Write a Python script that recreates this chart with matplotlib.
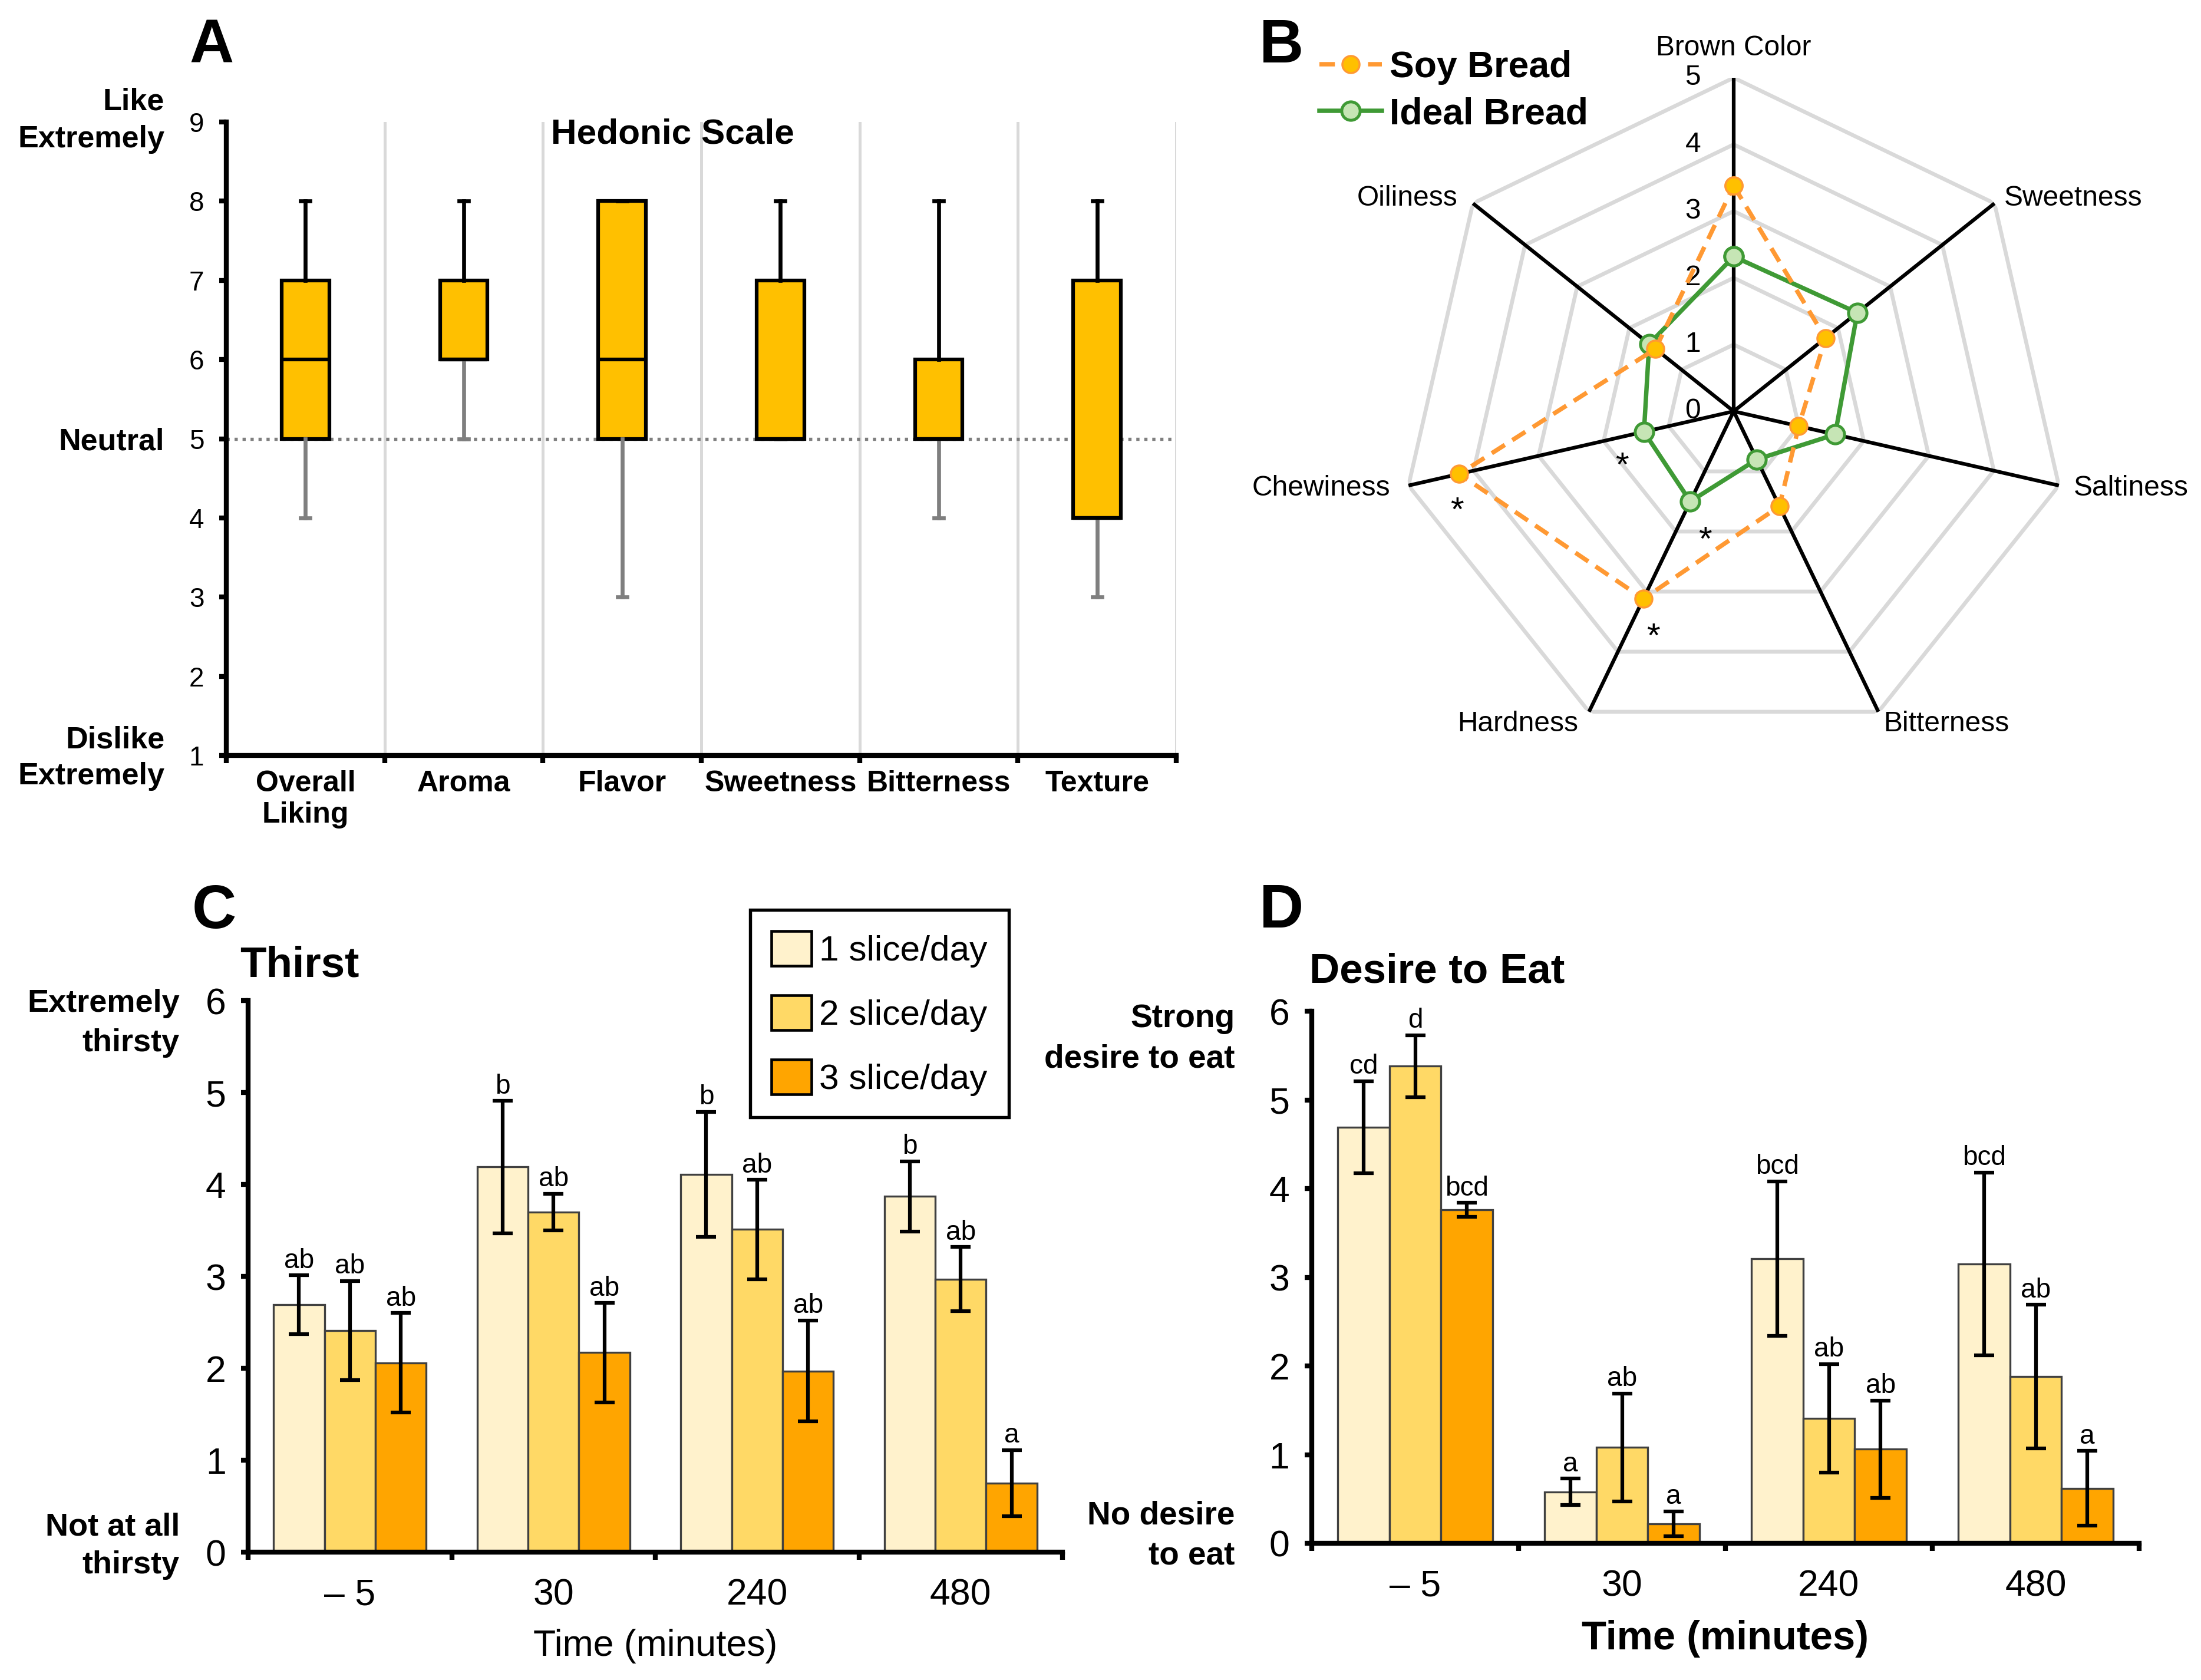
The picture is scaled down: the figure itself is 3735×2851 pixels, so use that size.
import matplotlib
matplotlib.use('Agg')
import matplotlib.pyplot as plt
import numpy as np
from matplotlib import transforms
from matplotlib.patches import Patch
from matplotlib.lines import Line2D

plt.rcParams['font.family'] = ['Liberation Sans', 'DejaVu Sans']

# ---------------- Panel A data (hedonic box plots) ----------------
hedonic_categories = ['Overall\nLiking', 'Aroma', 'Flavor', 'Sweetness', 'Bitterness', 'Texture']
hedonic_min = [4, 5, 3, 5, 4, 3]
hedonic_q1 = [5, 6, 5, 5, 5, 4]
hedonic_median = [6, 6, 6, 5, 5, 4]
hedonic_q3 = [7, 7, 8, 7, 6, 7]
hedonic_max = [8, 8, 8, 8, 8, 8]
hedonic_ticks = [1, 2, 3, 4, 5, 6, 7, 8, 9]

# ---------------- Panel B data (radar) ----------------
radar_attributes = ['Brown Color', 'Sweetness', 'Saltiness', 'Bitterness', 'Hardness', 'Chewiness', 'Oiliness']
soy_bread = [3.38, 1.76, 1.00, 1.58, 3.12, 4.22, 1.50]
ideal_bread = [2.32, 2.37, 1.56, 0.80, 1.50, 1.38, 1.62]
radar_ticks = [0, 1, 2, 3, 4, 5]
significant_attributes = ['Hardness', 'Chewiness']

# ---------------- Panels C & D data (bars) ----------------
time_labels = ['\u2013 5', '30', '240', '480']
dose_labels = ['1 slice/day', '2 slice/day', '3 slice/day']
dose_colors = ['#FFF2CC', '#FFD966', '#FFA500']

thirst_mean = [[2.69, 4.19, 4.11, 3.87],
               [2.41, 3.70, 3.51, 2.97],
               [2.06, 2.17, 1.97, 0.75]]
thirst_err = [[0.32, 0.72, 0.68, 0.38],
              [0.54, 0.20, 0.54, 0.35],
              [0.54, 0.54, 0.55, 0.36]]
thirst_letters = [['ab', 'b', 'b', 'b'],
                  ['ab', 'ab', 'ab', 'ab'],
                  ['ab', 'ab', 'ab', 'a']]

desire_mean = [[4.69, 0.58, 3.21, 3.15],
               [5.38, 1.08, 1.41, 1.88],
               [3.76, 0.22, 1.06, 0.62]]
desire_err = [[0.52, 0.15, 0.87, 1.03],
              [0.35, 0.61, 0.61, 0.81],
              [0.08, 0.14, 0.55, 0.42]]
desire_letters = [['cd', 'a', 'bcd', 'bcd'],
                  ['d', 'ab', 'ab', 'ab'],
                  ['bcd', 'a', 'ab', 'a']]
bar_ticks = [0, 1, 2, 3, 4, 5, 6]

W, H = 3735, 2851
fig = plt.figure(figsize=(W / 300, H / 300), dpi=300)


def rect(x0, y0, x1, y1):
    """pixel box (left, top, right, bottom) -> figure fraction rect"""
    return [x0 / W, 1 - y1 / H, (x1 - x0) / W, (y1 - y0) / H]


def side_label(ax, xfrac, ydata, text, dy_pt, size):
    tr = transforms.blended_transform_factory(ax.transAxes, ax.transData)
    off = transforms.ScaledTranslation(0, (dy_pt - 0.358 * size) / 72, fig.dpi_scale_trans)
    ax.text(xfrac, ydata, text, transform=tr + off, ha='right', va='baseline',
            fontsize=size, fontweight='bold', clip_on=False)


# ======================= Panel A =======================
axA = fig.add_axes(rect(384, 207, 1996, 1282))
stats = []
for i in range(len(hedonic_categories)):
    stats.append(dict(med=hedonic_median[i], q1=hedonic_q1[i], q3=hedonic_q3[i],
                      whislo=hedonic_min[i], whishi=hedonic_max[i], fliers=[]))
pos = np.arange(1, len(hedonic_categories) + 1)
axA.axhline(5, color='#7F7F7F', lw=1.3, ls=(0, (1, 1.5)), zorder=1.5)
bp = axA.bxp(stats, positions=pos, widths=0.3, patch_artist=True, showfliers=False,
             capwidths=0.06,
             boxprops=dict(facecolor='#FFC000', edgecolor='black', linewidth=1.5),
             medianprops=dict(color='black', linewidth=1.5),
             whiskerprops=dict(color='black', linewidth=1.6),
             capprops=dict(color='black', linewidth=1.6), zorder=3)
for k, (w, c) in enumerate(zip(bp['whiskers'], bp['caps'])):
    if k % 2 == 0:
        w.set_color('#7F7F7F')
        c.set_color('#7F7F7F')
axA.set_xlim(0.5, len(hedonic_categories) + 0.5)
axA.set_ylim(1, 9)
axA.set_yticks(hedonic_ticks)
axA.set_xticks(pos)
axA.set_xticklabels(hedonic_categories, fontweight='bold', fontsize=12, linespacing=1.2)
axA.set_xticks(np.arange(0.5, len(hedonic_categories) + 1, 1), minor=True)
axA.tick_params(axis='x', which='major', length=0, pad=6)
axA.tick_params(axis='x', which='minor', length=3, width=2, direction='out')
axA.tick_params(axis='y', length=3, width=2, direction='out', labelsize=11, pad=6)
axA.grid(axis='x', which='minor', color='#D9D9D9', lw=1.2, zorder=0)
axA.set_axisbelow(True)
for s in ['top', 'right']:
    axA.spines[s].set_visible(False)
for s in ['left', 'bottom']:
    axA.spines[s].set_linewidth(2)
axA.text(0.47, 0.98, 'Hedonic Scale', transform=axA.transAxes, ha='center', va='center',
         fontsize=14.5, fontweight='bold')
xl = -0.065
side_label(axA, xl, 9, 'Like', 9.4, 12.5)
side_label(axA, xl, 9, 'Extremely', -5.8, 12.5)
side_label(axA, xl, 5, 'Neutral', 0, 12.5)
side_label(axA, xl, 1, 'Dislike', 7.4, 12.5)
side_label(axA, xl, 1, 'Extremely', -7.4, 12.5)

# ======================= Panel B =======================
cx, cy, R = 2942, 698, 566
axB = fig.add_axes(rect(cx - R, cy - R, cx + R, cy + R), projection='polar')
axB.set_theta_zero_location('N')
axB.set_theta_direction(-1)
n = len(radar_attributes)
angles = np.arange(n) * 2 * np.pi / n
ang_c = np.append(angles, angles[0])
axB.set_ylim(0, 5)
axB.grid(False)
axB.set_xticks([])
axB.set_yticks([])
axB.spines['polar'].set_visible(False)
axB.patch.set_visible(False)
for r in radar_ticks[1:]:
    axB.plot(ang_c, [r] * (n + 1), color='#D9D9D9', lw=1.6, zorder=1)
for a in angles:
    axB.plot([a, a], [0, radar_ticks[-1]], color='black', lw=1.5, zorder=2)
soy_c = np.append(soy_bread, soy_bread[0])
ideal_c = np.append(ideal_bread, ideal_bread[0])
axB.plot(ang_c, ideal_c, color='#3F9A35', lw=1.8, marker='o', ms=7.5,
         mfc='#C6E5B5', mec='#3F9A35', mew=1.2, zorder=4)
axB.plot(ang_c, soy_c, color='#FF9933', lw=1.8, ls=(0, (3.5, 2)), marker='o', ms=7,
         mfc='#FFC000', mec='#FF9933', mew=0.8, zorder=5)
for r in radar_ticks:
    axB.annotate(str(r), xy=(0, r), xytext=(-16.6, 0), textcoords='offset points',
                 ha='center', va='center', fontsize=11.5)
label_fmt = {
    'Brown Color': ((0, 12), 'center'),
    'Sweetness': ((4, 2), 'left'),
    'Saltiness': ((6, -1), 'left'),
    'Bitterness': ((2, -5), 'left'),
    'Hardness': ((-4.5, -5), 'right'),
    'Chewiness': ((-7.5, -1), 'right'),
    'Oiliness': ((-6.3, 2), 'right'),
}
for a, name in zip(angles, radar_attributes):
    (dx, dy), ha = label_fmt[name]
    axB.annotate(name, xy=(a, radar_ticks[-1]), xytext=(dx, dy), textcoords='offset points',
                 ha=ha, va='center', fontsize=11.5, annotation_clip=False)
star_offsets = {
    ('Chewiness', 'ideal'): (-9, -10), ('Chewiness', 'soy'): (-1, -11),
    ('Hardness', 'ideal'): (6, -12), ('Hardness', 'soy'): (4, -11.5),
}
for (name, which), (dx, dy) in star_offsets.items():
    i = radar_attributes.index(name)
    val = ideal_bread[i] if which == 'ideal' else soy_bread[i]
    axB.annotate('*', xy=(angles[i], val), xytext=(dx, dy - 0.57 * 14), textcoords='offset points',
                 ha='center', va='baseline', fontsize=14)
radar_handles = [
    Line2D([], [], color='#FF9933', lw=1.8, ls=(0, (3.5, 2)), marker='o', ms=7,
           mfc='#FFC000', mec='#FF9933', mew=0.8),
    Line2D([], [], color='#3F9A35', lw=1.8, marker='o', ms=7.5,
           mfc='#C6E5B5', mec='#3F9A35', mew=1.2),
]
fig.legend(radar_handles, ['Soy Bread', 'Ideal Bread'], loc='center left',
           bbox_to_anchor=(2239 / W, 1 - 154 / H), frameon=False,
           prop=dict(size=15, weight='bold'), handlelength=1.7, handletextpad=0.2,
           labelspacing=0.33, borderpad=0, borderaxespad=0)


# ======================= Panels C & D =======================
def bar_panel(ax, means, errs, letters):
    x = np.arange(len(time_labels))
    bw = 0.25
    for j in range(len(dose_labels)):
        xs = x + (j - 1) * bw
        ax.bar(xs, means[j], width=bw, color=dose_colors[j], edgecolor='#404040',
               linewidth=0.8, zorder=2)
        ax.errorbar(xs, means[j], yerr=errs[j], fmt='none', ecolor='black',
                    elinewidth=1.5, capsize=4, capthick=1.5, zorder=3)
        for xi, m, e, lab in zip(xs, means[j], errs[j], letters[j]):
            ax.annotate(lab, xy=(xi, m + e), xytext=(0, 3), textcoords='offset points',
                        ha='center', va='baseline', fontsize=11)
    ax.set_xlim(-0.5, len(time_labels) - 0.5)
    ax.set_ylim(bar_ticks[0], bar_ticks[-1])
    ax.set_yticks(bar_ticks)
    ax.set_xticks(x)
    ax.set_xticklabels(time_labels)
    ax.set_xticks(np.arange(-0.5, len(time_labels), 1), minor=True)
    ax.tick_params(axis='x', which='major', length=0, pad=10.5, labelsize=15)
    ax.tick_params(axis='x', which='minor', length=3, width=2, direction='out')
    ax.tick_params(axis='y', length=3, width=2, direction='out', labelsize=15, pad=6)
    for s in ['top', 'right']:
        ax.spines[s].set_visible(False)
    for s in ['left', 'bottom']:
        ax.spines[s].set_linewidth(2)


axC = fig.add_axes(rect(421, 1698, 1803, 2634))
bar_panel(axC, thirst_mean, thirst_err, thirst_letters)
axC.set_xlabel('Time (minutes)', fontsize=15, labelpad=6.5)
axC.text(-0.01, 1.064, 'Thirst', transform=axC.transAxes, ha='left', va='center',
         fontsize=17.5, fontweight='bold')
xc = -0.084
side_label(axC, xc, 6, 'Extremely', 0, 13)
side_label(axC, xc, 6, 'thirsty', -16, 13)
side_label(axC, xc, 0, 'Not at all', 11.4, 13)
side_label(axC, xc, 0, 'thirsty', -4, 13)

axD = fig.add_axes(rect(2226, 1716, 3630, 2619))
bar_panel(axD, desire_mean, desire_err, desire_letters)
axD.set_xlabel('Time (minutes)', fontsize=16.5, fontweight='bold', labelpad=6.5)
axD.text(-0.003, 1.074, 'Desire to Eat', transform=axD.transAxes, ha='left', va='center',
         fontsize=17, fontweight='bold')
xd = -0.093
side_label(axD, xd, 6, 'Strong', -1.7, 13.2)
side_label(axD, xd, 6, 'desire to eat', -18.3, 13.2)
side_label(axD, xd, 0, 'No desire', 12.6, 13.2)
side_label(axD, xd, 0, 'to eat', -4, 13.2)

bar_handles = [Patch(facecolor=c, edgecolor='black', linewidth=1.1) for c in dose_colors]
leg = fig.legend(bar_handles, dose_labels, loc='upper left', bbox_to_anchor=(1273 / W, 1 - 1544 / H),
                 fontsize=14.5, frameon=True, fancybox=False, edgecolor='black', framealpha=1,
                 handlelength=1.12, handleheight=1.12, handletextpad=0.22, labelspacing=0.78,
                 borderpad=0.6, borderaxespad=0)
leg.get_frame().set_linewidth(1.3)

# ======================= Panel letters =======================
for letter, (px, py) in zip('ABCD', [(321, 79), (2137, 79), (326, 1548), (2137, 1548)]):
    fig.text(px / W, 1 - py / H, letter, ha='left', va='center', fontsize=25, fontweight='bold')

fig.savefig('out.png', dpi=300)
